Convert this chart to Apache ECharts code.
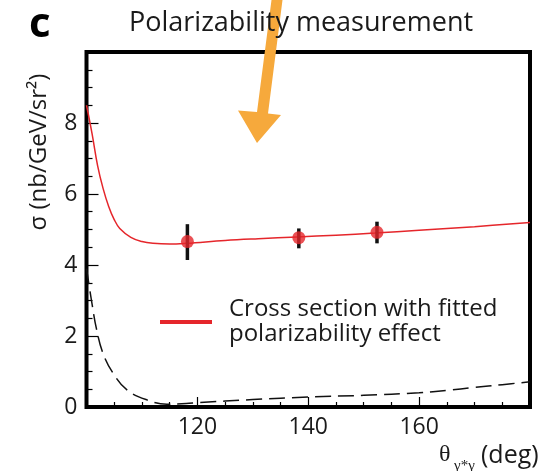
<!DOCTYPE html>
<html>
<head>
<meta charset="utf-8">
<script src="https://cdn.jsdelivr.net/npm/echarts@6/dist/echarts.min.js"></script>
<style>html,body{margin:0;padding:0;background:#fff}#c{width:540px;height:471px}</style>
</head>
<body>
<div id="c"></div>
<script>
// Fitted cross section curve (red)
const fitX = [100, 101, 102, 103, 104, 105, 106, 108, 110, 112, 115, 118, 125, 131, 138, 145, 152, 160, 170, 180];
const fitY = [8.5, 7.7, 6.8, 6.15, 5.65, 5.28, 5.03, 4.78, 4.66, 4.61, 4.59, 4.61, 4.69, 4.74, 4.79, 4.84, 4.90, 4.98, 5.08, 5.2];
// Dashed curve (black)
const dashX = [100, 100.9, 101.8, 103, 104.8, 107.3, 110.9, 114.5, 118, 120, 130, 140, 150, 160, 165, 170, 175, 180];
const dashY = [3.9, 3.0, 2.2, 1.5, 0.95, 0.48, 0.2, 0.08, 0.1, 0.12, 0.21, 0.28, 0.33, 0.40, 0.47, 0.55, 0.63, 0.71];
// Measured points with error bars
const pointX = [118.2, 138.3, 152.4];
const pointY = [4.66, 4.77, 4.92];
const errLo = [4.14, 4.47, 4.61];
const errHi = [5.15, 5.03, 5.22];
// Axis ticks
const xTicks = [100, 180, 20];
const yTicks = [0, 10, 2];

const fitName = 'Cross section with fitted\npolarizability effect';
const red = '#E5262B';
const txt = '#1a1a1a';
const sans = 'Open Sans';

const chart = echarts.init(document.getElementById('c'), null, {renderer: 'canvas'});
chart.setOption({
  animation: false,
  backgroundColor: '#fff',
  title: [
    {text: 'c', left: 24, top: -1, z: 10, textStyle: {fontFamily: 'Open Sans', fontWeight: 'bold', fontSize: 42, color: '#000'}},
    {text: 'Polarizability measurement', left: 124, top: 5, z: 10, textStyle: {fontFamily: sans, fontWeight: 'normal', fontSize: 27, color: txt}}
  ],
  grid: {left: 86.5, top: 52, right: 10, bottom: 64, show: true, borderColor: '#000', borderWidth: 4, backgroundColor: 'transparent'},
  legend: {
    data: [fitName], left: 155, top: 292, icon: 'rect', itemWidth: 52, itemHeight: 4,
    textStyle: {fontFamily: sans, fontSize: 24, lineHeight: 25, color: txt, padding: [0, 0, 0, 12]},
    selectedMode: false
  },
  xAxis: {
    type: 'value', min: xTicks[0], max: xTicks[1], interval: xTicks[2],
    axisLine: {show: false},
    splitLine: {show: false},
    axisTick: {show: true, inside: true, length: 10, lineStyle: {color: '#000', width: 1.2}},
    minorTick: {show: true, splitNumber: 4, length: 5, lineStyle: {color: '#000', width: 1.2}},
    axisLabel: {showMinLabel: false, showMaxLabel: false, margin: 9, fontFamily: sans, fontSize: 23, color: txt}
  },
  yAxis: {
    type: 'value', min: yTicks[0], max: yTicks[1], interval: yTicks[2],
    axisLine: {show: false},
    splitLine: {show: false},
    axisTick: {show: true, inside: true, length: 12, lineStyle: {color: '#000', width: 1.2}},
    minorTick: {show: true, splitNumber: 4, length: 6, lineStyle: {color: '#000', width: 1.2}},
    axisLabel: {showMaxLabel: false, margin: 9, fontFamily: sans, fontSize: 23, color: txt}
  },
  graphic: [
    {type: 'polygon', z: 5, shape: {points: [[271.5, 0], [282.5, 0], [268, 113.5], [281, 115], [257, 143], [238, 110.5], [257, 112]]}, style: {fill: '#F6A93C'}},
    {type: 'text', x: 39, y: 152, rotation: Math.PI / 2, z: 10, style: {text: 'σ (nb/GeV/sr²)', fontFamily: sans, fontSize: 24, fill: txt, align: 'center', verticalAlign: 'middle'}},
    {type: 'text', x: 439, y: 455, z: 10, style: {text: 'θ', fontFamily: 'Liberation Serif', fontSize: 24, fill: txt, align: 'left', verticalAlign: 'middle'}},
    {type: 'text', x: 454, y: 466, z: 10, style: {text: 'γ*γ', fontFamily: 'Liberation Serif', fontSize: 15, fill: txt, align: 'left', verticalAlign: 'middle'}},
    {type: 'text', x: 481, y: 456, z: 10, style: {text: '(deg)', fontFamily: sans, fontSize: 25, fill: txt, align: 'left', verticalAlign: 'middle'}}
  ],
  series: [
    {
      name: fitName, type: 'line', smooth: 0.4, showSymbol: false, color: red,
      data: fitX.map((x, i) => [x, fitY[i]]),
      lineStyle: {color: red, width: 1.5}, z: 3
    },
    {
      name: 'dashed', type: 'line', smooth: 0.4, showSymbol: false, color: '#111',
      data: dashX.map((x, i) => [x, dashY[i]]),
      lineStyle: {color: '#111', width: 1.5, type: [16, 7]}, z: 3
    },
    {
      name: 'errors', type: 'custom', z: 4,
      data: pointX.map((x, i) => [x, errLo[i], errHi[i]]),
      renderItem: function (params, api) {
        const p1 = api.coord([api.value(0), api.value(1)]);
        const p2 = api.coord([api.value(0), api.value(2)]);
        return {type: 'line', shape: {x1: p1[0], y1: p1[1], x2: p2[0], y2: p2[1]}, style: {stroke: '#111', lineWidth: 3.5}};
      }
    },
    {
      name: 'points', type: 'scatter', z: 5, symbol: 'circle', symbolSize: 13, color: red,
      data: pointX.map((x, i) => [x, pointY[i]]),
      itemStyle: {color: red}
    }
  ]
});
</script>
</body>
</html>
